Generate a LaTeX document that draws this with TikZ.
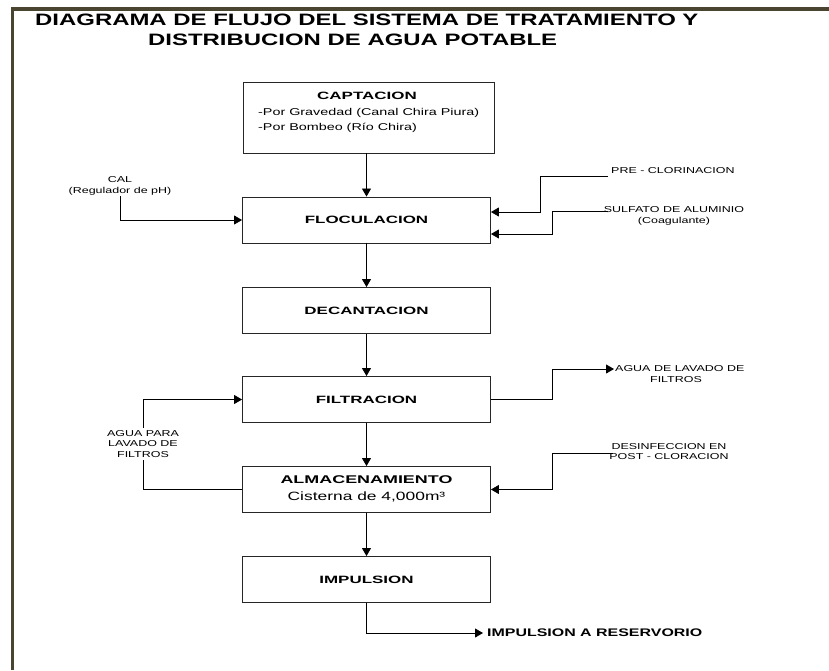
\documentclass[tikz,border=0pt]{standalone}
\usepackage{fontspec}
\setmainfont{Liberation Sans}
\newfontfamily\wsf[FakeStretch=1.45]{Liberation Sans}
\newfontfamily\wbx[FakeStretch=1.6]{Liberation Sans}
\usetikzlibrary{arrows.meta}
\definecolor{framecol}{HTML}{4A4530}
\begin{document}
\begin{tikzpicture}[x=1pt,y=-1pt,
  box/.style={draw=black!85, line width=0.9pt, minimum width=248pt, minimum height=46pt, inner sep=0pt},
  lbl/.style={font=\wbx\bfseries\fontsize{10.6}{12}\selectfont, inner sep=0pt},
  txt/.style={font=\wsf\fontsize{9.9}{12}\selectfont, inner sep=0pt, anchor=west},
  small/.style={font=\wsf\fontsize{8.6}{10.5}\selectfont, align=center, inner sep=1pt},
  arr/.style={line width=0.8pt, -{Triangle[length=8pt,width=9pt]}}]
\useasboundingbox (0,0) rectangle (829,670);
\fill[white] (0,0) rectangle (829,670);
\draw[framecol, line width=3.5pt] (12.5,670) -- (12.5,9) -- (829,9);
% title
\node[anchor=west, inner sep=0pt, font=\wsf\bfseries\fontsize{16.5}{20}\selectfont] (t1) at (35,20) {DIAGRAMA DE FLUJO DEL SISTEMA DE TRATAMIENTO Y};
\node[anchor=west, inner sep=0pt, font=\wsf\bfseries\fontsize{16.5}{20}\selectfont] (t2) at (148,40) {DISTRIBUCION DE AGUA POTABLE};
% boxes
\node[box, minimum width=251pt, minimum height=71pt] (cap) at (368.5,117.5) {};
\node[lbl] (capL) at (367,96) {CAPTACION};
\node[txt] (cap1) at (258,113) {-Por Gravedad (Canal Chira Piura)};
\node[txt] (cap2) at (258,128) {-Por Bombeo (Río Chira)};
\node[box] (floc) at (366.5,220) {};
\node[lbl] (flocL) at (366.5,220) {FLOCULACION};
\node[box] (dec) at (366.5,310.5) {};
\node[lbl] (decL) at (366.5,310.5) {DECANTACION};
\node[box] (fil) at (366.5,399.5) {};
\node[lbl] (filL) at (366.5,399.5) {FILTRACION};
\node[box] (alm) at (366.5,489.5) {};
\node[lbl, font=\wbx\bfseries\fontsize{11.2}{13}\selectfont] (almL) at (366.5,480) {ALMACENAMIENTO};
\node[inner sep=0pt, font=\wsf\fontsize{12}{14}\selectfont] (almT) at (366.5,496.5) {Cisterna de 4,000m³};
\node[box] (imp) at (366.5,579.5) {};
\node[lbl] (impL) at (366.5,579.5) {IMPULSION};
% main arrows
\draw[arr] (floc.north |- cap.south) -- (floc.north);
\draw[arr] (floc.south) -- (dec.north);
\draw[arr] (dec.south) -- (fil.north);
\draw[arr] (fil.south) -- (alm.north);
\draw[arr] (alm.south) -- (imp.north);
% CAL
\node[small] (cal) at (120,186) {CAL\\(Regulador de pH)};
\draw[arr] (cal.south) |- (floc.west);
% PRE-CLORINACION
\node[small, anchor=west, inner sep=0pt] (pre) at (611,171) {PRE - CLORINACION};
\coordinate (preS) at (608,176);
\draw[arr] (preS) -- (540,176) |- ([yshift=8]floc.east);
% SULFATO
\node[small, inner sep=0pt] (sul) at (674,216) {SULFATO DE ALUMINIO\\(Coagulante)};
\coordinate (sulS) at (608,211);
\draw[arr] (sulS) -- (552,211) |- ([yshift=-14]floc.east);
% lavado de filtros (out)
\node[small, anchor=west, inner sep=0pt] (lav1) at (615,369) {AGUA DE LAVADO DE};
\node[small, inner sep=0pt] (lav2) at (676,380) {FILTROS};
\draw[arr] (fil.east) -- (552,399.5) |- ([xshift=-1]lav1.west);
% desinfeccion
\node[small, inner sep=0pt] (des) at (669,451.5) {DESINFECCION EN\\POST - CLORACION};
\coordinate (desS) at (613,453);
\draw[arr] (desS) -- (552,453) |- (alm.east);
% agua para lavado (in)
\draw[arr] (alm.west) -- (143,489.5) |- (fil.west);
\node[small, fill=white, inner sep=2pt] (apl) at (143,444) {AGUA PARA\\LAVADO DE\\FILTROS};
% impulsion a reservorio
\node[anchor=west, inner sep=0pt, font=\wsf\bfseries\fontsize{11}{13}\selectfont] (res) at (487,633) {IMPULSION A RESERVORIO};
\draw[arr] (imp.south) |- ([xshift=-4]res.west);
\end{tikzpicture}
\end{document}
